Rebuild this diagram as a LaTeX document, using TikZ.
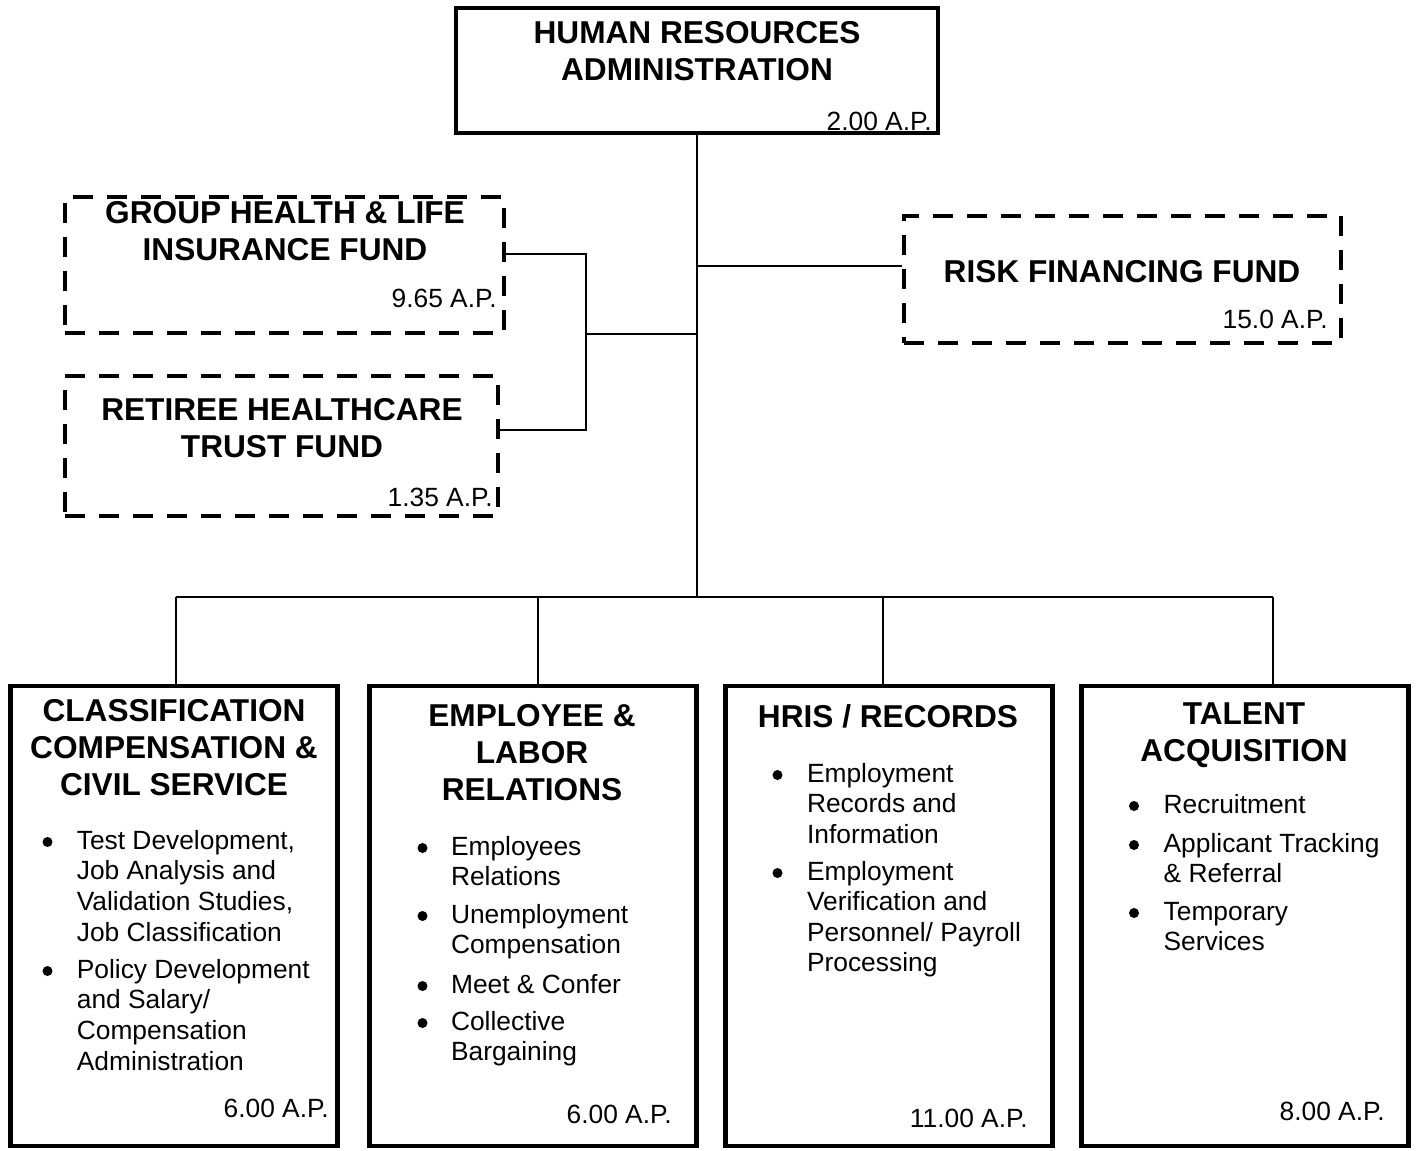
\documentclass[tikz,border=0pt]{standalone}
\usepackage{fontspec}
\setmainfont{Liberation Sans}

\begin{document}
\begin{tikzpicture}[x=0.02cm,y=-0.02cm,
    topbox/.style={draw,line width=2.6pt,inner sep=0pt},
    unit/.style={draw,line width=2.6pt,inner sep=0pt,minimum width=6.54cm,minimum height=9.2cm},
    fund/.style={draw,line width=2.3pt,dash pattern=on 0.4cm off 0.28cm,inner sep=0pt},
    headtxt/.style={font=\fontsize{18}{21}\selectfont\bfseries,align=center,anchor=base,inner sep=0pt},
    duty/.style={font=\fontsize{15}{17.4}\selectfont,align=left,anchor=base west,inner sep=0pt},
    aptxt/.style={font=\fontsize{15}{17.4}\selectfont,anchor=base east,inner sep=0pt},
    bul/.style={circle,fill,inner sep=0pt,minimum size=0.2cm},
    link/.style={line width=1.5pt}]

      \useasboundingbox (0,0) rectangle (1416,1150);

      % boxes
      \node[topbox, minimum width=9.64cm, minimum height=2.5cm] (hr) at (697,70.5) {};
      \node[fund, minimum width=8.78cm, minimum height=2.72cm] (gh) at (284.5,265) {};
      \node[fund, minimum width=8.66cm, minimum height=2.8cm] (rh) at (281.5,446) {};
      \node[fund, minimum width=8.74cm, minimum height=2.54cm] (rf) at (1122.5,279.5) {};
      \node[unit] (ccs)  at (174,916) {};
      \node[unit] (elr)  at (533,916) {};
      \node[unit] (hris) at (889,916) {};
      \node[unit] (ta)   at (1245,916) {};

      % connectors
      \coordinate (bus) at (697,597);
      \coordinate (rk)  at (697,266);
      \coordinate (ga)  at (586,254);
      \coordinate (rt)  at (586,430);
      \coordinate (fm)  at (586,334);
      \draw[link] (hr.south) -- (bus);
      \draw[link] (rk) -- (rk -| rf.west);
      \draw[link] (gh.east |- ga) -- (ga) -- (rt) -- (rt -| rh.east);
      \draw[link] (fm) -- (fm -| hr.south);
      \draw[link] (176,597) -- (1273,597);
      \foreach \x/\n in {176/ccs,538/elr,883/hris,1273/ta}
        \draw[link] (\x,597) -- (\n.north -| \x,0);

      % top and fund texts (multi-line nodes sit on their last line)
      \node[headtxt] (hr-t) at (697,80) {HUMAN RESOURCES\\ADMINISTRATION};
      \node[aptxt] (hr-ap) at (932,130) {2.00 A.P.};
      \node[headtxt] (gh-t) at (285,260) {GROUP HEALTH \& LIFE\\INSURANCE FUND};
      \node[aptxt] (gh-ap) at (497,307) {9.65 A.P.};
      \node[headtxt] (rh-t) at (282,457) {RETIREE HEALTHCARE\\TRUST FUND};
      \node[aptxt] (rh-ap) at (493,506) {1.35 A.P.};
      \node[headtxt] (rf-t) at (1122,282) {RISK FINANCING FUND};
      \node[aptxt] (rf-ap) at (1328,328) {15.0 A.P.};

      % classification
      \node[headtxt] (ccs-t) at (174,795) {CLASSIFICATION\\COMPENSATION \&\\CIVIL SERVICE};
      \node[bul] (ccs-b1) at (47.5,842) {};
      \node[duty] (ccs-1) at (76.5,941) {Test Development,\\Job Analysis and\\Validation Studies,\\Job Classification};
      \node[bul] (ccs-b2) at (47.5,971) {};
      \node[duty] (ccs-2) at (76.5,1070) {Policy Development\\and Salary/\\Compensation\\Administration};
      \node[aptxt] (ccs-ap) at (329,1117) {6.00 A.P.};

      % employee and labor relations
      \node[headtxt] (elr-t) at (532,800) {EMPLOYEE \&\\LABOR\\RELATIONS};
      \node[bul] (elr-b1) at (422.5,848) {};
      \node[duty] (elr-1) at (450.7,885.6) {Employees\\Relations};
      \node[bul] (elr-b2) at (422.5,916) {};
      \node[duty] (elr-2) at (450.7,953.6) {Unemployment\\Compensation};
      \node[bul] (elr-b3) at (422.5,986) {};
      \node[duty] (elr-3) at (450.7,993) {Meet \& Confer};
      \node[bul] (elr-b4) at (422.5,1023) {};
      \node[duty] (elr-4) at (450.7,1060.6) {Collective\\Bargaining};
      \node[aptxt] (elr-ap) at (672,1123) {6.00 A.P.};

      % hris
      \node[headtxt] (hris-t) at (888,727) {HRIS / RECORDS};
      \node[bul] (hris-b1) at (777.5,775) {};
      \node[duty] (hris-1) at (806.7,843.2) {Employment\\Records and\\Information};
      \node[bul] (hris-b2) at (777.5,873) {};
      \node[duty] (hris-2) at (806.7,971.8) {Employment\\Verification and\\Personnel/ Payroll\\Processing};
      \node[aptxt] (hris-ap) at (1028,1127) {11.00 A.P.};

      % talent acquisition
      \node[headtxt] (ta-t) at (1244,761) {TALENT\\ACQUISITION};
      \node[bul] (ta-b1) at (1134,806) {};
      \node[duty] (ta-1) at (1163.3,813) {Recruitment};
      \node[bul] (ta-b2) at (1134,845) {};
      \node[duty] (ta-2) at (1163.3,882.6) {Applicant Tracking\\\& Referral};
      \node[bul] (ta-b3) at (1134,913) {};
      \node[duty] (ta-3) at (1163.3,950.6) {Temporary\\Services};
      \node[aptxt] (ta-ap) at (1385,1120) {8.00 A.P.};

    \end{tikzpicture}
\end{document}
